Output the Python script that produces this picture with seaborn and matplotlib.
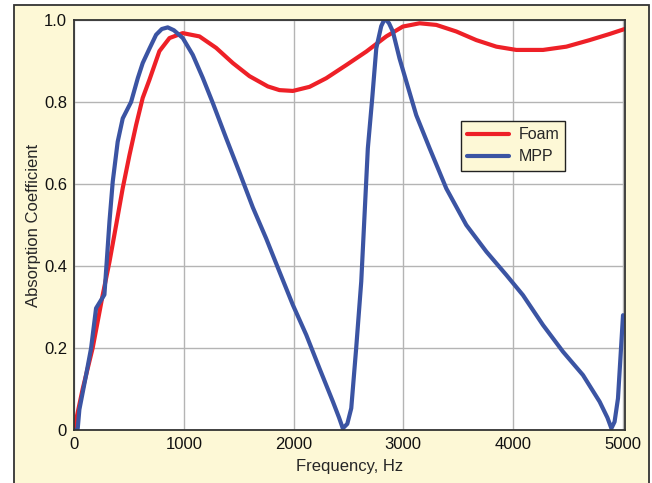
import pandas as pd
import matplotlib.pyplot as plt
import seaborn as sns
from matplotlib.patches import Rectangle

# values
foam_hz = [0, 79, 170, 262, 323, 384, 444, 505, 566, 626, 687, 778, 870, 991, 1143, 1295,
           1447, 1599, 1766, 1872, 1994, 2146, 2298, 2480, 2663, 2845, 2996, 3149, 3301,
           3483, 3665, 3848, 4030, 4273, 4486, 4698, 4881, 5017]
foam_abs = [0.0, 0.10, 0.20, 0.33, 0.41, 0.50, 0.59, 0.67, 0.744, 0.81, 0.854, 0.924, 0.956,
            0.968, 0.96, 0.932, 0.895, 0.863, 0.838, 0.829, 0.827, 0.837, 0.858, 0.89, 0.923,
            0.96, 0.984, 0.992, 0.988, 0.972, 0.951, 0.935, 0.927, 0.927, 0.935, 0.951, 0.966,
            0.978]

mpp_hz = [20, 34, 49, 110, 156, 201, 247, 277, 298, 323, 353, 398, 444, 520, 581, 626, 687,
          748, 800, 854, 910, 991, 1082, 1173, 1264, 1386, 1508, 1629, 1751, 1872, 1994, 2116,
          2237, 2359, 2415, 2449, 2490, 2526, 2571, 2617, 2647, 2677, 2717, 2754, 2799, 2822,
          2845, 2870, 2905, 2966, 3118, 3240, 3392, 3574, 3757, 3939, 4090, 4273, 4455, 4637,
          4789, 4860, 4896, 4925, 4956, 5002]
mpp_abs = [0.0, 0.004, 0.05, 0.134, 0.20, 0.297, 0.317, 0.33, 0.41, 0.508, 0.606, 0.703, 0.76,
           0.80, 0.858, 0.895, 0.93, 0.964, 0.978, 0.982, 0.975, 0.956, 0.915, 0.859, 0.798,
           0.712, 0.628, 0.543, 0.467, 0.386, 0.305, 0.232, 0.15, 0.069, 0.03, 0.004, 0.015,
           0.053, 0.20, 0.362, 0.524, 0.687, 0.809, 0.931, 0.985, 0.998, 1.0, 0.992, 0.972,
           0.906, 0.768, 0.687, 0.589, 0.50, 0.435, 0.378, 0.329, 0.256, 0.191, 0.134, 0.069,
           0.03, 0.004, 0.02, 0.077, 0.28]

x_ticks = [0, 1000, 2000, 3000, 4000, 5000]
y_ticks = [0, 0.2, 0.4, 0.6, 0.8, 1.0]
y_tick_labels = ['0', '0.2', '0.4', '0.6', '0.8', '1.0']

cream = '#fdf8d6'

sns.set_style('white')
plt.rcParams['font.family'] = ['Liberation Sans', 'DejaVu Sans']

fig = plt.figure(figsize=(6.52, 4.83), dpi=100)
fig.patch.set_facecolor('white')
frame = Rectangle((14 / 652, -0.05), 635 / 652, 1 - 5 / 483 + 0.05,
                  transform=fig.transFigure, facecolor=cream,
                  edgecolor='#333333', linewidth=1.3, zorder=-10)
fig.add_artist(frame)

ax = fig.add_axes([74 / 652, 53 / 483, 551 / 652, 410 / 483])
ax.set_zorder(5)
ax.set_facecolor('white')

df_foam = pd.DataFrame({'hz': foam_hz, 'abs': foam_abs})
df_mpp = pd.DataFrame({'hz': mpp_hz, 'abs': mpp_abs})
sns.lineplot(data=df_foam, x='hz', y='abs', ax=ax, color='#ee2027', linewidth=3,
             label='Foam', sort=False, estimator=None)
sns.lineplot(data=df_mpp, x='hz', y='abs', ax=ax, color='#3b54a3', linewidth=3,
             label='MPP', sort=False, estimator=None)

ax.set_xlim(0, 5020)
ax.set_ylim(0, 1.0)
ax.set_xticks(x_ticks)
ax.set_xticklabels([str(t) for t in x_ticks])
ax.set_yticks(y_ticks)
ax.set_yticklabels(y_tick_labels)
ax.tick_params(length=0, labelsize=12, colors='#111111', pad=5)
ax.grid(True, color='#b4b4b4', linewidth=1)
for s in ax.spines.values():
    s.set_color('#333333')
    s.set_linewidth(1.3)

ax.set_xlabel('Frequency, Hz', fontsize=12, labelpad=5)
ax.set_ylabel('Absorption Coefficient', fontsize=12, labelpad=2)

leg = ax.legend(loc='upper left', bbox_to_anchor=(0.702, 0.754), fontsize=11.5,
                fancybox=False, framealpha=1, facecolor=cream, edgecolor='#222222',
                handlelength=2.6, handletextpad=0.6, borderpad=0.4,
                labelspacing=0.45, borderaxespad=0)
leg.get_frame().set_linewidth(1)

fig.savefig('out.png', dpi=100)
